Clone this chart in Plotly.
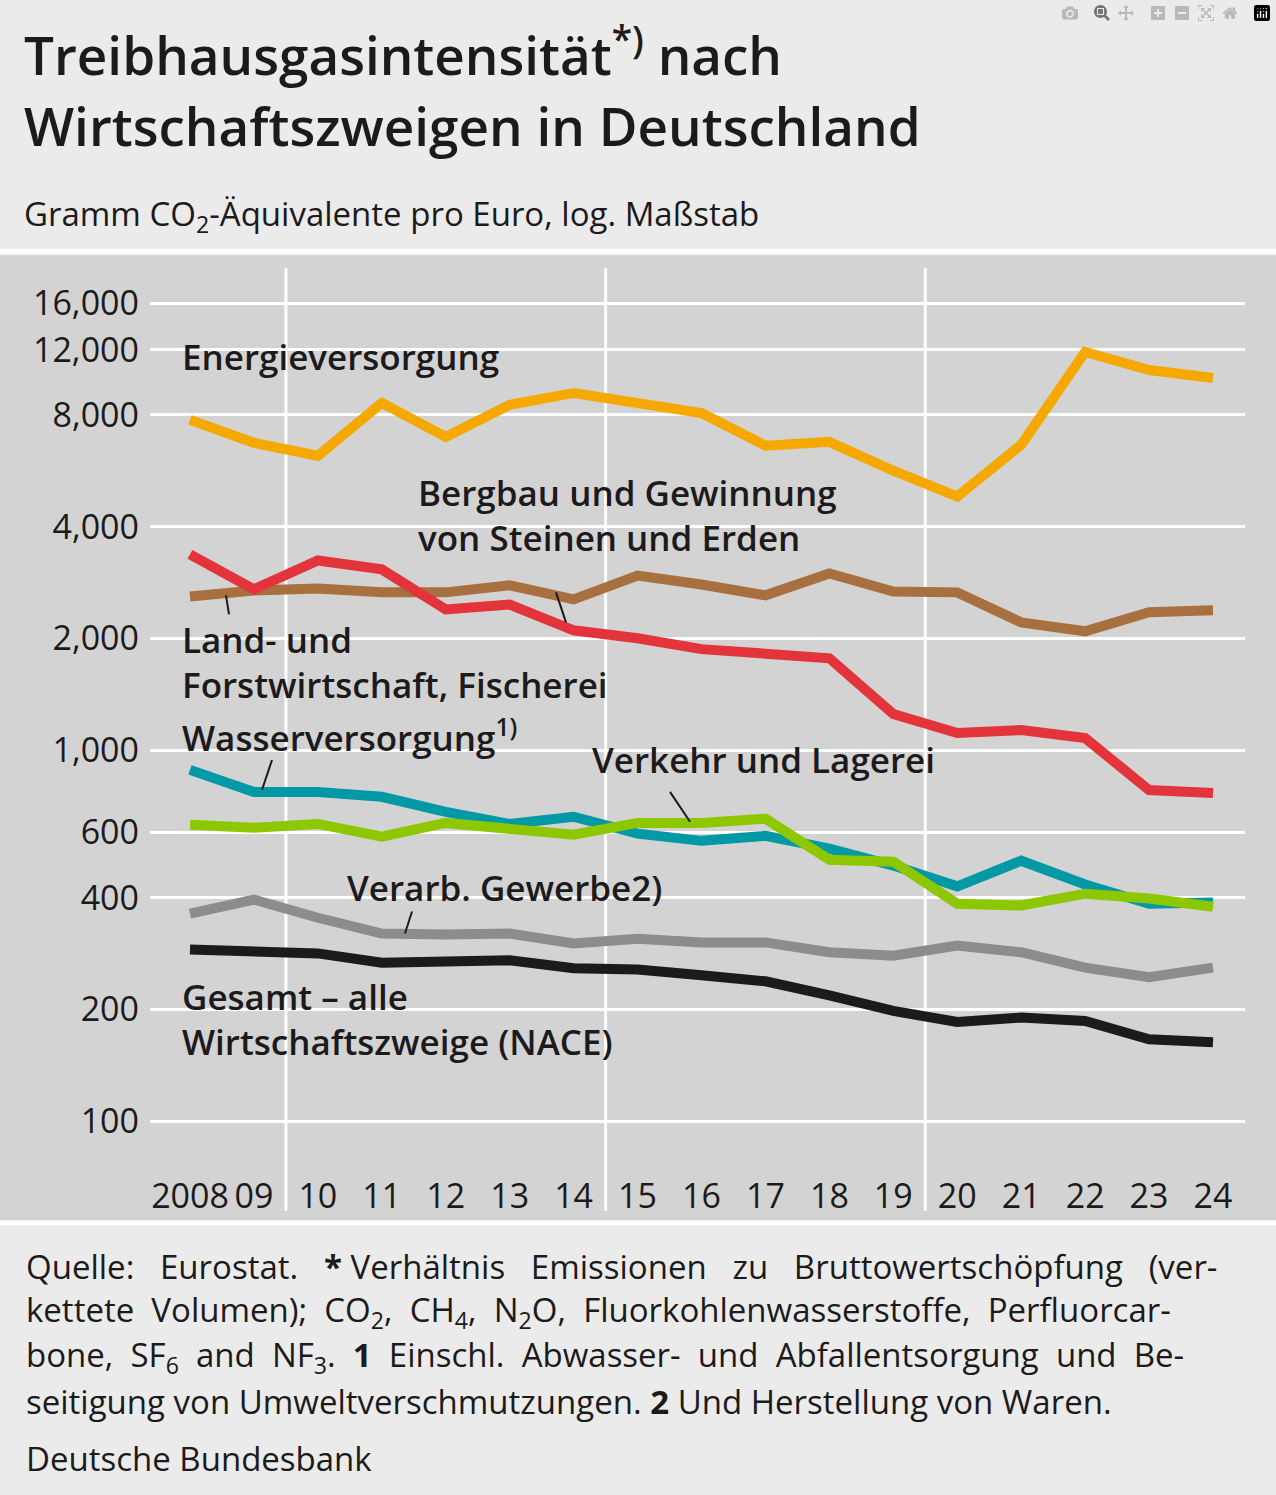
import plotly.graph_objects as go

# Données
years = list(range(2008, 2025))
year_labels = ['2008', '09', '10', '11', '12', '13', '14', '15', '16', '17', '18', '19', '20', '21', '22', '23', '24']
energie = [7760, 6730, 6210, 8620, 6980, 8520, 9170, 8620, 8100, 6610, 6770, 5660, 4820, 6650, 11830, 10570, 10060]
bergbau = [2594, 2692, 2725, 2660, 2660, 2778, 2547, 2953, 2793, 2612, 2992, 2675, 2660, 2208, 2089, 2350, 2379]
landforst = [3365, 2710, 3243, 3067, 2393, 2467, 2102, 2000, 1870, 1824, 1767, 1250, 1111, 1132, 1077, 780, 766]
wasser = [884, 771, 771, 748, 681, 632, 661, 595, 569, 587, 542, 488, 429, 503, 434, 385, 388]
verkehr = [629, 617, 632, 584, 636, 617, 591, 636, 636, 653, 506, 500, 385, 381, 410, 398, 378]
verarb = [362, 395, 353, 320, 318, 320, 301, 310, 303, 303, 285, 279, 297, 285, 259, 244, 259]
gesamt = [290, 286, 283, 267, 269, 271, 258, 256, 247, 238, 218, 198, 185, 190, 186, 166, 163]
y_ticks = [100, 200, 400, 600, 1000, 2000, 4000, 8000, 12000, 16000]
y_ticktext = ['100', '200', '400', '600', '1,000', '2,000', '4,000', '8,000', '12,000', '16,000']

W, H = 1276, 1495
def px(x, y):                                   # pixels -> coordonnées papier
    return x / W, 1 - y / H

FONT = 'Open Sans'
fig = go.Figure()

series = [(bergbau, '#a8703f'), (energie, '#f5a900'), (landforst, '#e3343b'),
          (wasser, '#0099a5'), (verkehr, '#8dc700'), (verarb, '#8c8c8c'), (gesamt, '#1c1a1a')]
for vals, col in series:
    fig.add_scatter(x=years, y=vals, mode='lines', line=dict(color=col, width=10),
                    showlegend=False, hoverinfo='skip')

x0, y0 = px(150, 1150)
x1, y1 = px(1245, 280)
fig.update_layout(
    width=W, height=H, margin=dict(l=0, r=0, t=0, b=0),
    paper_bgcolor='#ebebeb', plot_bgcolor='rgba(0,0,0,0)',
    font=dict(family=FONT, color='#1c1a1a'),
    xaxis=dict(domain=[x0, x1], range=[2008 - 40 / 63.94, 2024 + 32 / 63.94],
               tickvals=years, ticktext=year_labels, showgrid=False, zeroline=False,
               ticks='', ticklabelstandoff=22, tickfont=dict(size=34)),
    yaxis=dict(domain=[y0, y1], type='log', range=[2 - 30 / 372, 2 + 840 / 372],
               tickvals=y_ticks, ticktext=y_ticktext, gridcolor='white', gridwidth=3,
               zeroline=False, ticks='', ticklabelstandoff=10, tickfont=dict(size=34)),
)

shapes = []
# fonds
b = px(0, 1222)[1]
d = px(0, 252)[1]
shapes.append(dict(type='rect', xref='paper', yref='paper', x0=0, x1=1, y0=b, y1=d,
                   fillcolor='#d3d3d3', line_width=0, layer='below'))
for yy in (248, 1222):
    shapes.append(dict(type='line', xref='paper', yref='paper', x0=0, x1=1,
                       y0=px(0, yy)[1], y1=px(0, yy)[1], line=dict(color='white', width=5)))
# lignes verticales
for xv in (2009.5, 2014.5, 2019.5):
    shapes.append(dict(type='line', xref='x', yref='paper', x0=xv, x1=xv,
                       y0=px(0, 1210)[1], y1=px(0, 265)[1], line=dict(color='white', width=3),
                       layer='below'))
# traits de rappel
for (xa, ya, xb, yb) in [(226, 593, 229, 612), (556, 590, 566, 620), (262, 788, 272, 758),
                         (670, 790, 690, 820), (405, 932, 412, 910)]:
    p, q = px(xa, ya)
    r, s = px(xb, yb)
    shapes.append(dict(type='line', xref='paper', yref='paper', x0=p, x1=r, y0=q, y1=s,
                       line=dict(color='#1c1a1a', width=2)))
fig.update_layout(shapes=shapes)

def txt(x, y, text, size, weight=400, yanchor='middle'):
    p, q = px(x, y)
    fig.add_annotation(x=p, y=q, xref='paper', yref='paper', text=text, showarrow=False,
                       xanchor='left', yanchor=yanchor, align='left',
                       font=dict(family=FONT, size=size, weight=weight, color='#1c1a1a'))

# titres
txt(22, 48, 'Treibhausgasintensität<sup>*)</sup> nach', 53, 600)
txt(22, 122, 'Wirtschaftszweigen in Deutschland', 53, 600)
txt(22, 212, 'Gramm CO<sub>2</sub>-Äquivalente pro Euro, log. Maßstab', 33)

# étiquettes des séries
txt(180, 353, 'Energieversorgung', 35, 600)
txt(416, 490, 'Bergbau und Gewinnung', 35, 600)
txt(416, 535, 'von Steinen und Erden', 35, 600)
txt(180, 637, 'Land- und', 35, 600)
txt(180, 682, 'Forstwirtschaft, Fischerei', 35, 600)
txt(180, 733, 'Wasserversorgung<sup>1)</sup>', 35, 600)
txt(590, 758, 'Verkehr und Lagerei', 35, 600)
txt(345, 886, 'Verarb. Gewerbe2)', 35, 600)
txt(180, 995, 'Gesamt – alle', 35, 600)
txt(180, 1040, 'Wirtschaftszweige (NACE)', 35, 600)

# pied de page
txt(24, 1266, 'Quelle:   Eurostat.   <b>*</b> Verhältnis   Emissionen   zu   Bruttowertschöpfung   (ver-', 33)
txt(24, 1311, 'kettete  Volumen);  CO<sub>2</sub>,  CH<sub>4</sub>,  N<sub>2</sub>O,  Fluorkohlenwasserstoffe,  Perfluorcar-', 33)
txt(24, 1356, 'bone,  SF<sub>6</sub>  and  NF<sub>3</sub>.  <b>1</b>  Einschl.  Abwasser-  und  Abfallentsorgung  und  Be-', 33)
txt(24, 1401, 'seitigung von Umweltverschmutzungen. <b>2</b> Und Herstellung von Waren.', 33)
txt(24, 1458, 'Deutsche Bundesbank', 33)

fig.write_html('out.html', post_script="document.body.style.margin='0';")
